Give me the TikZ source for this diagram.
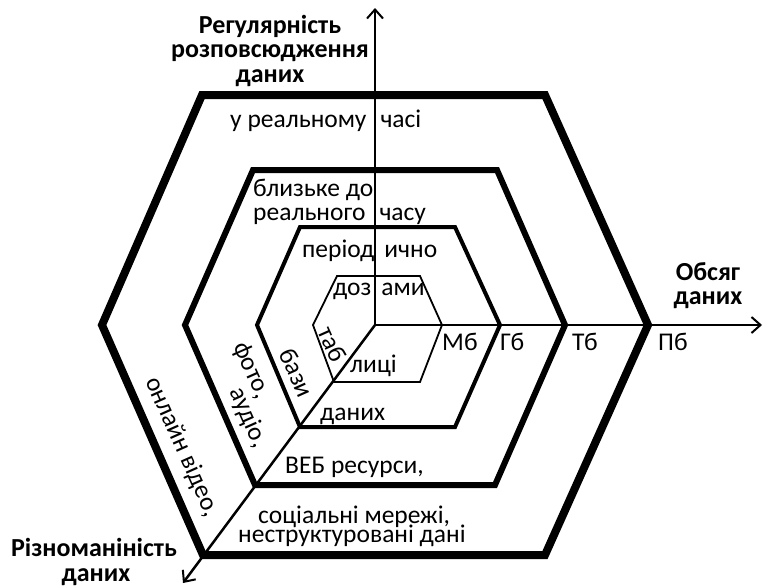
\documentclass[tikz,border=0pt]{standalone}
\usepackage{fontspec}
\setmainfont{Carlito}
\usetikzlibrary{arrows.meta}
\begin{document}
\begin{tikzpicture}[x=1pt,y=-1pt,
  lbl/.style={font=\fontsize{25.5}{24}\selectfont, inner sep=0pt},
  blbl/.style={font=\bfseries\fontsize{26}{25}\selectfont, inner sep=0pt, anchor=base},
  hexa/.style={draw, line join=miter},
  axisline/.style={line width=2.5pt, -{Straight Barb[length=9pt,width=16pt,line width=2pt]}}]
\useasboundingbox (0,0) rectangle (763,587);
% hexagons
\draw[hexa, line width=8pt] (202,95) -- (545,95) -- (648,325) -- (545,555) -- (203,555) -- (102,325) -- cycle;
\draw[hexa, line width=6pt] (253,170) -- (497,170) -- (565,325) -- (495,485) -- (255,485) -- (185,325) -- cycle;
\draw[hexa, line width=4pt] (300,227) -- (455,227) -- (500,325) -- (455,427) -- (300,427) -- (257,325) -- cycle;
\draw[hexa, line width=1.8pt] (337,276) -- (420,276) -- (442,325) -- (420,382) -- (334,382) -- (313,325) -- cycle;
% axis titles
\node[blbl] (reg1) at (270,33) {Регулярність};
\node[blbl] (reg2) at (270,57) {розповсюдження};
\node[blbl] (reg3) at (270,82) {даних};
\node[blbl] (obs1) at (708,280) {Обсяг};
\node[blbl] (obs2) at (708,304) {даних};
\node[blbl] (riz1) at (94,556) {Різноманіність};
\node[blbl] (riz2) at (96,581) {даних};
% labels
\node[lbl, anchor=base west] (t1) at (230,127) {у реальному\hspace{14pt}часі};
\node[lbl, anchor=base west] (t2) at (253,196) {близьке до};
\node[lbl, anchor=base west] (t3) at (253,220) {реального\hspace{14pt}часу};
\node[lbl, anchor=base west] (t4) at (302,257) {період\hspace{10pt}ично};
\node[lbl, anchor=base west] (t5) at (333,295) {доз\hspace{10pt}ами};
\node[lbl, anchor=base west] (t6) at (350,372) {лиці};
\node[lbl, anchor=base west] (t7) at (320,420) {даних};
\node[lbl, anchor=base west] (t8) at (285,473) {ВЕБ ресурси,};
\node[lbl, anchor=base west] (t9) at (258,523) {соціальні мережі,};
\node[lbl, anchor=base west] (t10) at (238,542) {неструктуровані дані};
\node[lbl, anchor=base west] (mb) at (442,350) {Мб};
\node[lbl, anchor=base west] (gb) at (500,350) {Гб};
\node[lbl, anchor=base west] (tb) at (572,350) {Тб};
\node[lbl, anchor=base west] (pb) at (658,350) {Пб};
% rotated labels
\node[lbl, rotate=-66] (r1) at (182,447) {онлайн відео,};
\node[lbl, rotate=-66, align=left, font=\fontsize{25.5}{22}\selectfont] (r2) at (250,395) {фото,\\\hspace*{40pt}аудіо,};
\node[lbl, rotate=-66] (r4) at (297,373) {бази};
\node[lbl, rotate=-66] (r5) at (333,344) {таб};
% axes
\coordinate (O) at (375,325);
\coordinate (up) at (375,8);
\coordinate (right) at (762,325);
\coordinate (diag) at (183,583);
\draw[axisline] (O) -- (up);
\draw[axisline] (O) -- (right);
\draw[axisline] (O) -- (diag);
\end{tikzpicture}
\end{document}
